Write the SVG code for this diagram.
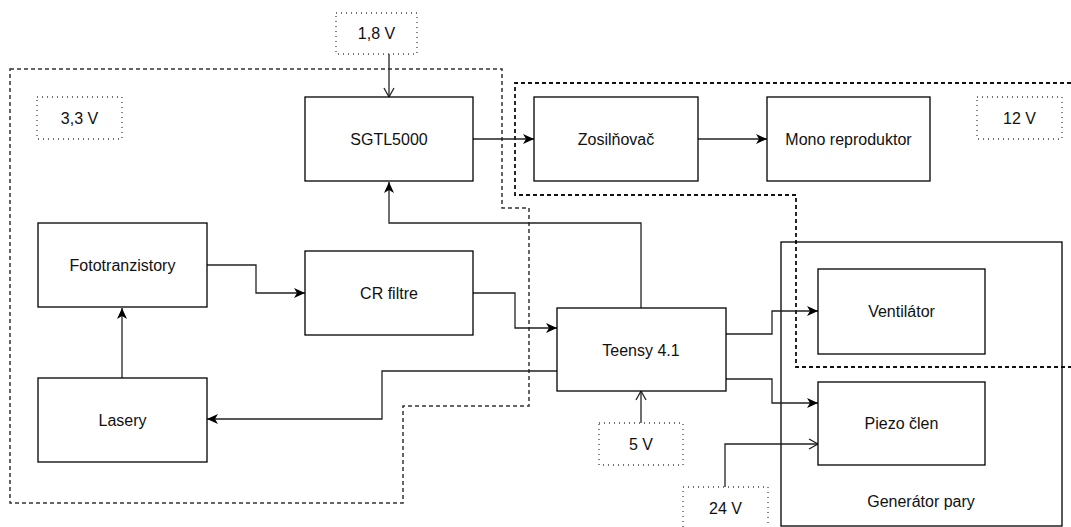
<svg xmlns="http://www.w3.org/2000/svg" width="1071" height="527" viewBox="0 0 1071 527">
<style>
.box{fill:#fff;stroke:#000;stroke-width:1.3}
.cont{fill:none;stroke:#000;stroke-width:1.3}
.vbox{fill:#fff;stroke:#444;stroke-width:1.3;stroke-dasharray:1 4}
.zone{fill:none;stroke:#333;stroke-width:1.5;stroke-dasharray:4 3}
.zone2{fill:none;stroke:#111;stroke-width:1.8;stroke-dasharray:4 3}
.lbl{font-family:"Liberation Sans",Arial,sans-serif;font-size:16px;fill:#111;text-anchor:middle;dominant-baseline:central}
.c{fill:none;stroke:#222;stroke-width:1.3}
.ca{marker-end:url(#fa)}
.co{marker-end:url(#oa)}
</style>
<defs>
<marker id="fa" markerWidth="12" markerHeight="10" refX="11" refY="5" orient="auto" markerUnits="userSpaceOnUse">
<path d="M0,0 L11,5 L0,10 L3,5 Z" fill="#000"/>
</marker>
<marker id="oa" markerWidth="12" markerHeight="12" refX="10" refY="6" orient="auto" markerUnits="userSpaceOnUse">
<path d="M1,1 L10,6 L1,11" fill="none" stroke="#222" stroke-width="1.3"/>
</marker>
</defs>

<g id="zones">
<path class="zone" d="M10,69 H502 V208 H529 V406 H403 V503 H10 Z"/>
<path class="zone2" d="M1071,83 H515 V195 H796 V367 H1071"/>
</g>

<g id="generator-pary">
<rect class="cont" x="781" y="242" width="281" height="284"/>
<text class="lbl" x="921" y="501">Generátor pary</text>
</g>

<g id="connectors">
<path class="c co" d="M389,54 V97"/>
<path class="c ca" d="M473,139 H534"/>
<path class="c ca" d="M698,139 H767"/>
<path class="c ca" d="M641,308 V223 H389 V182"/>
<path class="c ca" d="M207,265 H256 V293 H305"/>
<path class="c ca" d="M473,293 H515 V328 H557"/>
<path class="c ca" d="M557,371 H382 V419 H207"/>
<path class="c ca" d="M122,378 V308"/>
<path class="c ca" d="M726,334 H772 V311 H818"/>
<path class="c ca" d="M726,379 H772 V403 H818"/>
<path class="c co" d="M641,423 V391"/>
<path class="c co" d="M725,487 V444 H818"/>
</g>

<g id="v18"><rect class="vbox" x="336" y="13" width="81" height="41"/><text class="lbl" x="376.5" y="33.5">1,8 V</text></g>
<g id="v33"><rect class="vbox" x="37" y="97" width="85" height="42"/><text class="lbl" x="79.5" y="118">3,3 V</text></g>
<g id="v12"><rect class="vbox" x="977" y="97" width="85" height="42"/><text class="lbl" x="1019.5" y="118">12 V</text></g>
<g id="v5"><rect class="vbox" x="599" y="423" width="84" height="42"/><text class="lbl" x="641" y="444">5 V</text></g>
<g id="v24"><rect class="vbox" x="683" y="487" width="85" height="45"/><text class="lbl" x="725.5" y="508">24 V</text></g>

<g id="sgtl5000"><rect class="box" x="305" y="97" width="168" height="84"/><text class="lbl" x="389" y="139">SGTL5000</text></g>
<g id="zosilnovac"><rect class="box" x="534" y="97" width="164" height="84"/><text class="lbl" x="616" y="139">Zosilňovač</text></g>
<g id="mono-reproduktor"><rect class="box" x="767" y="97" width="163" height="84"/><text class="lbl" x="848.5" y="139">Mono reproduktor</text></g>
<g id="fototranzistory"><rect class="box" x="38" y="223" width="169" height="84"/><text class="lbl" x="122.5" y="265">Fototranzistory</text></g>
<g id="cr-filtre"><rect class="box" x="305" y="251" width="168" height="84"/><text class="lbl" x="389" y="293">CR filtre</text></g>
<g id="teensy"><rect class="box" x="557" y="308" width="169" height="83"/><text class="lbl" x="641" y="350">Teensy 4.1</text></g>
<g id="lasery"><rect class="box" x="38" y="378" width="169" height="84"/><text class="lbl" x="122.5" y="420">Lasery</text></g>
<g id="ventilator"><rect class="box" x="818" y="269" width="167" height="85"/><text class="lbl" x="901.5" y="311">Ventilátor</text></g>
<g id="piezo"><rect class="box" x="818" y="382" width="167" height="83"/><text class="lbl" x="901.5" y="423">Piezo člen</text></g>
</svg>
